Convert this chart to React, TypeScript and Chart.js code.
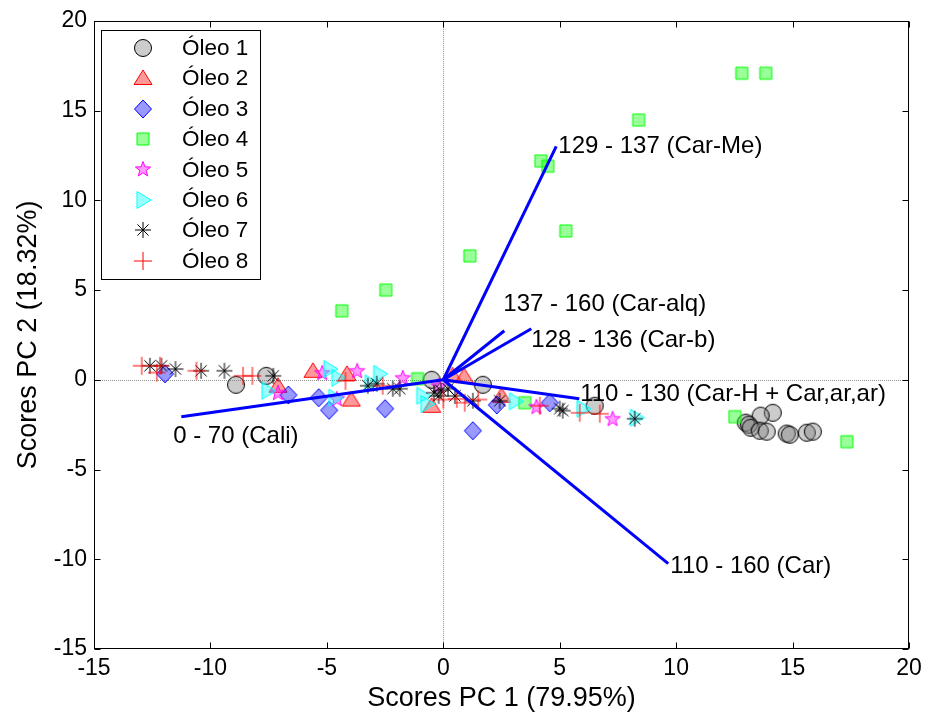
import React, { useEffect, useRef } from 'react';
import { Chart, registerables } from 'chart.js';

Chart.register(...registerables);

// ---------- data ----------
const seriesNames = ['Óleo 1', 'Óleo 2', 'Óleo 3', 'Óleo 4', 'Óleo 5', 'Óleo 6', 'Óleo 7', 'Óleo 8'];

const oleo1: [number, number][] = [
  [-8.9, -0.28], [-7.6, 0.22], [-0.5, 0.0], [1.7, -0.28], [6.5, -1.45],
  [14.15, -1.84], [13.63, -2.0], [12.99, -2.39], [13.12, -2.5], [13.2, -2.67],
  [13.59, -2.84], [13.89, -2.89], [14.75, -3.0], [14.88, -3.06], [15.61, -2.95], [15.87, -2.89],
];
const oleo2: [number, number][] = [
  [-7.1, -0.33], [-5.6, 0.5], [-4.14, 0.33], [-3.95, -1.1], [-0.5, -1.45],
  [0.4, 0.25], [0.9, 0.2], [2.5, -0.89],
];
const oleo3: [number, number][] = [
  [-11.95, 0.33], [-6.65, -0.85], [-5.35, -1.0], [-4.9, -1.7], [-2.5, -1.61],
  [2.3, -1.4], [4.57, -1.28], [1.27, -2.84],
];
const oleo4: [number, number][] = [
  [12.82, 17.08], [13.85, 17.08], [8.39, 14.47], [4.19, 12.19], [4.49, 11.9],
  [5.26, 8.29], [1.14, 6.9], [-2.47, 5.0], [-4.36, 3.84], [-1.1, 0.06],
  [3.5, -1.28], [12.52, -2.06], [17.33, -3.45],
];
const oleo5: [number, number][] = [
  [-7.1, -0.72], [-5.2, 0.39], [-3.7, 0.5], [-1.74, 0.11], [-4.57, -1.06],
  [-0.2, -0.33], [4.0, -1.5], [7.27, -2.17],
];
const oleo6: [number, number][] = [
  [-7.53, -0.61], [-4.87, 0.6], [-4.53, 0.11], [-4.66, -1.0], [-2.73, 0.33],
  [-3.1, -0.2], [-0.88, -0.89], [-0.7, -1.35], [3.1, -1.2], [6.0, -1.61], [8.3, -2.11],
];
const oleo7: [number, number][] = [
  [-12.6, 0.78], [-12.1, 0.78], [-11.5, 0.6], [-10.4, 0.5], [-9.4, 0.5], [-7.3, 0.22],
  [-3.24, -0.33], [-2.86, -0.22], [-2.17, -0.5], [-1.87, -0.5], [-0.4, -0.72],
  [-0.2, -0.9], [-0.1, -0.6], [0.2, -0.5], [0.5, -0.9], [1.27, -1.17], [2.42, -1.17],
  [5.0, -1.61], [5.13, -1.72], [8.22, -2.17],
];
const oleo8: [number, number][] = [
  [-12.95, 0.78], [-12.17, 0.78], [-12.3, 0.4], [-10.6, 0.5], [-8.6, 0.22], [-8.2, 0.22],
  [-4.2, -0.06], [-2.6, -0.33], [0.0, -1.1], [0.58, -1.06], [0.92, -1.28], [1.5, -1.1],
  [4.14, -1.45], [5.86, -1.84], [6.72, -1.89],
];

const loadingNames = [
  '129 - 137 (Car-Me)',
  '137 - 160 (Car-alq)',
  '128 - 136 (Car-b)',
  '110 - 130 (Car-H + Car,ar,ar)',
  '110 - 160 (Car)',
  '0 - 70 (Cali)',
];
const loadingStart: [number, number][] = [[0, 0], [0, 0], [0, 0], [0, 0], [0, 0], [-11.25, -2.06]];
const loadingEnd: [number, number][] = [[4.85, 13.0], [2.62, 2.73], [3.78, 2.84], [5.84, -1.06], [9.66, -10.24], [0, 0]];
const loadingLabelAt: [number, number][] = [[4.94, 13.0], [2.58, 4.2], [3.78, 2.17], [5.88, -0.8], [9.75, -10.4], [-11.6, -3.17]];

const xTitle = 'Scores PC 1 (79.95%)';
const yTitle = 'Scores PC 2 (18.32%)';
const axisMin = -15;
const axisMax = 20;
const axisStep = 5;

// ---------- styles ----------
const FONT = 'Arial, "Liberation Sans", Helvetica, sans-serif';
const markerKinds = ['circle', 'triangle', 'diamond', 'square', 'star', 'right', 'asterisk', 'plus'];
const markerStroke = ['#000000', '#ff0000', '#0000ff', '#00ff00', '#ff00ff', '#00ffff', '#000000', '#ff0000'];
const markerFill = [
  'rgba(128,128,128,0.4)', 'rgba(255,0,0,0.4)', 'rgba(0,0,255,0.4)', 'rgba(0,255,0,0.4)',
  'rgba(255,0,255,0.4)', 'rgba(0,255,255,0.4)', '', '',
];

function makeMarker(kind: string, stroke: string, fill: string): HTMLCanvasElement {
  const S = 26;
  const c = S / 2;
  const cv = document.createElement('canvas');
  cv.width = S;
  cv.height = S;
  const g = cv.getContext('2d') as CanvasRenderingContext2D;
  g.lineWidth = 1;
  g.strokeStyle = stroke;
  g.fillStyle = fill || 'transparent';
  g.beginPath();
  if (kind === 'circle') {
    g.arc(c, c, 8.5, 0, Math.PI * 2);
  } else if (kind === 'triangle') {
    g.moveTo(c, c - 8);
    g.lineTo(c + 9, c + 6.5);
    g.lineTo(c - 9, c + 6.5);
    g.closePath();
  } else if (kind === 'diamond') {
    g.moveTo(c, c - 9);
    g.lineTo(c + 8.5, c);
    g.lineTo(c, c + 9);
    g.lineTo(c - 8.5, c);
    g.closePath();
  } else if (kind === 'square') {
    g.rect(c - 6, c - 6, 12, 12);
  } else if (kind === 'star') {
    const ro = 8, ri = 3.3;
    for (let i = 0; i < 10; i++) {
      const r = i % 2 === 0 ? ro : ri;
      const a = -Math.PI / 2 + (i * Math.PI) / 5;
      const px = c + r * Math.cos(a);
      const py = c + 0.5 + r * Math.sin(a);
      if (i === 0) g.moveTo(px, py); else g.lineTo(px, py);
    }
    g.closePath();
  } else if (kind === 'right') {
    g.moveTo(c + 8, c);
    g.lineTo(c - 6, c - 8.5);
    g.lineTo(c - 6, c + 8.5);
    g.closePath();
  } else if (kind === 'asterisk') {
    const r = 8, d = 5.6;
    g.moveTo(c - r, c); g.lineTo(c + r, c);
    g.moveTo(c, c - r); g.lineTo(c, c + r);
    g.moveTo(c - d, c - d); g.lineTo(c + d, c + d);
    g.moveTo(c - d, c + d); g.lineTo(c + d, c - d);
  } else if (kind === 'plus') {
    const r = 9;
    g.moveTo(c - r, c); g.lineTo(c + r, c);
    g.moveTo(c, c - r); g.lineTo(c, c + r);
  }
  if (fill) g.fill();
  g.stroke();
  return cv;
}

export default function App() {
  const ref = useRef<HTMLCanvasElement | null>(null);

  useEffect(() => {
    if (!ref.current) return;
    const allSeries = [oleo1, oleo2, oleo3, oleo4, oleo5, oleo6, oleo7, oleo8];
    const markers = markerKinds.map((k, i) => makeMarker(k, markerStroke[i], markerFill[i]));

    const scatterSets = allSeries.map((s, i) => ({
      label: seriesNames[i],
      data: s.map(([x, y]) => ({ x, y })),
      pointStyle: markers[i] as any,
      pointRadius: 8,
      showLine: false,
      order: 9 - i,
    }));
    const lineSets = loadingNames.map((n, i) => ({
      label: n,
      data: [
        { x: loadingStart[i][0], y: loadingStart[i][1] },
        { x: loadingEnd[i][0], y: loadingEnd[i][1] },
      ],
      showLine: true,
      borderColor: '#0000ff',
      borderWidth: 3,
      pointRadius: 0,
      order: 0,
    }));

    const decor = {
      id: 'decor',
      beforeDatasetsDraw(chart: any) {
        const { ctx, chartArea: a, scales } = chart;
        const x0 = Math.round(scales.x.getPixelForValue(0)) + 0.5;
        const y0 = Math.round(scales.y.getPixelForValue(0)) + 0.5;
        ctx.save();
        ctx.strokeStyle = '#909090';
        ctx.lineWidth = 1;
        ctx.setLineDash([1, 1]);
        ctx.beginPath();
        ctx.moveTo(x0, a.top);
        ctx.lineTo(x0, a.bottom);
        ctx.moveTo(a.left, y0);
        ctx.lineTo(a.right, y0);
        ctx.stroke();
        ctx.restore();
      },
      afterDatasetsDraw(chart: any) {
        const { ctx, scales } = chart;
        ctx.save();
        ctx.fillStyle = '#000';
        ctx.font = `24px ${FONT}`;
        ctx.textAlign = 'left';
        ctx.textBaseline = 'middle';
        loadingNames.forEach((n, i) => {
          ctx.fillText(n, scales.x.getPixelForValue(loadingLabelAt[i][0]), scales.y.getPixelForValue(loadingLabelAt[i][1]));
        });
        ctx.restore();
      },
      afterDraw(chart: any) {
        const { ctx, chartArea: a, scales } = chart;
        ctx.save();
        ctx.strokeStyle = '#000';
        ctx.lineWidth = 1;
        const L = Math.round(a.left) + 0.5, R = Math.round(a.right) - 0.5;
        const T = Math.round(a.top) + 0.5, B = Math.round(a.bottom) - 0.5;
        ctx.strokeRect(L, T, R - L, B - T);
        const tl = 6;
        ctx.beginPath();
        for (let v = axisMin; v <= axisMax; v += axisStep) {
          const px = Math.round(scales.x.getPixelForValue(v)) + 0.5;
          ctx.moveTo(px, B); ctx.lineTo(px, B - tl);
          ctx.moveTo(px, T); ctx.lineTo(px, T + tl);
          const py = Math.round(scales.y.getPixelForValue(v)) + 0.5;
          ctx.moveTo(L, py); ctx.lineTo(L + tl, py);
          ctx.moveTo(R, py); ctx.lineTo(R - tl, py);
        }
        ctx.stroke();

        // legend box
        const lx = a.left + 7, ly = a.top + 9, lw = 159, lh = 249;
        ctx.fillStyle = '#fff';
        ctx.fillRect(lx, ly, lw, lh);
        ctx.strokeRect(Math.round(lx) + 0.5, Math.round(ly) + 0.5, lw, lh);
        ctx.font = `22.5px ${FONT}`;
        ctx.fillStyle = '#000';
        ctx.textAlign = 'left';
        ctx.textBaseline = 'middle';
        seriesNames.forEach((n, i) => {
          const cy = ly + 18 + i * 30.4;
          const m = markers[i];
          ctx.drawImage(m, Math.round(lx + 42 - m.width / 2), Math.round(cy - m.height / 2));
          ctx.fillText(n, lx + 81, cy + 1);
        });
        ctx.restore();
      },
    };

    const chart = new Chart(ref.current, {
      type: 'scatter',
      data: { datasets: [...lineSets, ...scatterSets] as any },
      options: {
        responsive: false,
        animation: false,
        devicePixelRatio: 1,
        layout: { padding: { top: 20, right: 21, left: 0, bottom: 0 } },
        plugins: { legend: { display: false }, tooltip: { enabled: false } },
        scales: {
          x: {
            type: 'linear',
            min: axisMin,
            max: axisMax,
            ticks: { stepSize: axisStep, color: '#000', font: { size: 23, family: FONT }, padding: 6, autoSkip: false, maxRotation: 0 },
            grid: { display: false, drawTicks: false },
            border: { display: false },
            title: { display: true, text: xTitle, color: '#000', font: { size: 27, family: FONT }, padding: { top: 0, bottom: 0 } },
            afterFit(s: any) { s.height = 66; },
          },
          y: {
            type: 'linear',
            min: axisMin,
            max: axisMax,
            ticks: { stepSize: axisStep, color: '#000', font: { size: 23, family: FONT }, padding: 7, autoSkip: false },
            grid: { display: false, drawTicks: false },
            border: { display: false },
            title: { display: true, text: yTitle, color: '#000', font: { size: 27, family: FONT }, padding: { top: 12, bottom: 0 } },
            afterFit(s: any) { s.width = 94; },
          },
        },
      } as any,
      plugins: [decor],
    });
    return () => chart.destroy();
  }, []);

  return (
    <div style={{ position: 'fixed', left: 0, top: 0, width: 930, height: 715, background: '#fff' }}>
      <canvas ref={ref} width={930} height={715} style={{ display: 'block' }} />
    </div>
  );
}
